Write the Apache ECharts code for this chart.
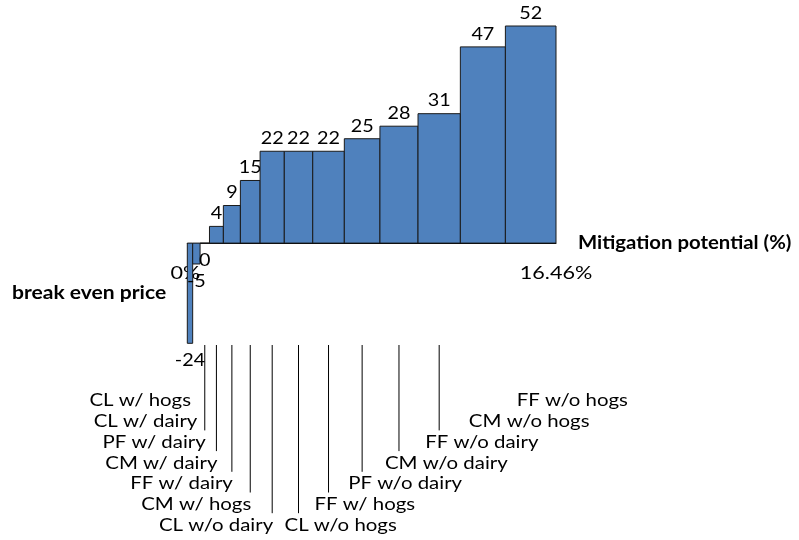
<!DOCTYPE html>
<html>
<head>
<meta charset="utf-8">
<script src="https://cdn.jsdelivr.net/npm/echarts@6/dist/echarts.min.js"></script>
<style>
  html, body { margin: 0; padding: 0; background: #fff; }
  #chart { width: 799px; height: 540px; }
</style>
</head>
<body>
<div id="chart"></div>
<script>
// options, ordered by break even price
const names = ['CL w/ hogs', 'CL w/ dairy', 'PF w/ dairy', 'CM w/ dairy', 'FF w/ dairy', 'CM w/ hogs', 'CL w/o dairy',
  'CL w/o hogs', 'FF w/ hogs', 'PF w/o dairy', 'CM w/o dairy', 'FF w/o dairy', 'CM w/o hogs', 'FF w/o hogs']
const prices = [-24, -5, 0, 4, 9, 15, 22, 22, 22, 25, 28, 31, 47, 52]
// mitigation potential of each option (%), cumulative total 16.46
const potentials = [0.24, 0.33, 0.42, 0.62, 0.76, 0.88, 1.08, 1.27, 1.41, 1.59, 1.70, 1.89, 2.01, 2.26]
const xTicks = [0, 16.46]
const xName = 'Mitigation potential (%)'
const yName = 'break even price'

const FONT = 'Lato'
const BLUE = '#4f81bd'
const STRETCH = 1.16 // the source picture is a bit wide

let acc = 0
const items = prices.map((p, i) => {
  const start = acc
  acc += potentials[i]
  return [start, acc, p, i]
})
const total = xTicks[xTicks.length - 1]

function txt(text, x, y, align, size, bold, stretch) {
  return {
    type: 'text', x, y, scaleX: stretch || STRETCH,
    style: {
      text, x: 0, y: 0, align, verticalAlign: 'middle',
      fontFamily: FONT, fontSize: size, fontWeight: bold ? 'bold' : 'normal', fill: '#000'
    }
  }
}

function renderBar(params, api) {
  const x0 = api.value(0), x1 = api.value(1), v = api.value(2), i = api.value(3)
  const p0 = api.coord([x0, 0])
  const p1 = api.coord([x1, v])
  const cx = (p0[0] + p1[0]) / 2
  const top = Math.min(p0[1], p1[1]), bot = Math.max(p0[1], p1[1])
  const children = [{
    type: 'rect',
    shape: { x: p0[0], y: top, width: p1[0] - p0[0], height: bot - top },
    style: { fill: BLUE, stroke: '#1a1a1a', lineWidth: 1 }
  }, txt(String(v), cx, v > 0 ? top - 13 : bot + 17, 'center', 18, false, 1.1)]

  // staggered category labels below the chart
  const row = i < 7 ? i : 13 - i
  const rowY = 401 + 20.7 * row
  if (i >= 2 && i <= 11) {
    children.push({
      type: 'line',
      shape: { x1: cx, y1: 345, x2: cx, y2: rowY - 12 },
      style: { stroke: '#000', lineWidth: 1 }
    })
  }
  children.push(txt(names[i], i < 7 ? cx + 1 : cx - 14, rowY, i < 7 ? 'right' : 'left', 17, false, 1.2))
  return { type: 'group', children }
}

function renderTick(params, api) {
  const t = api.value(0)
  const p = api.coord([t, 0])
  const children = [txt((t === 0 ? '0' : t.toFixed(2)) + '%', p[0] - (t === 0 ? 2 : 0), p[1] + 30, 'center', 18, false, 1.2)]
  if (t === total) children.push(txt(xName, p[0] + 22, p[1], 'left', 18, true, 1.13))
  return { type: 'group', children }
}

const chart = echarts.init(document.getElementById('chart'))
chart.setOption({
  animation: false,
  grid: { left: 187.3, right: 243, top: 26, bottom: 196.7, containLabel: false },
  xAxis: {
    type: 'value', min: 0, max: total, interval: total,
    axisLine: { onZero: true, lineStyle: { color: '#000', width: 1 } },
    axisTick: { show: false },
    splitLine: { show: false },
    axisLabel: { show: false }
  },
  yAxis: {
    type: 'value', min: -24, max: 52, interval: 4,
    axisLine: { show: false }, axisTick: { show: false },
    axisLabel: { show: false }, splitLine: { show: false }
  },
  graphic: [{
    type: 'text', x: 12, y: 293, scaleX: 1.17,
    style: { text: yName, x: 0, y: 0, verticalAlign: 'middle', fontFamily: FONT, fontSize: 18, fontWeight: 'bold', fill: '#000' }
  }],
  series: [{
    type: 'custom',
    clip: false,
    renderItem: renderBar,
    data: items,
    z: 2
  }, {
    type: 'custom',
    clip: false,
    renderItem: renderTick,
    data: xTicks.map(t => [t]),
    z: 1
  }]
})
</script>
</body>
</html>
